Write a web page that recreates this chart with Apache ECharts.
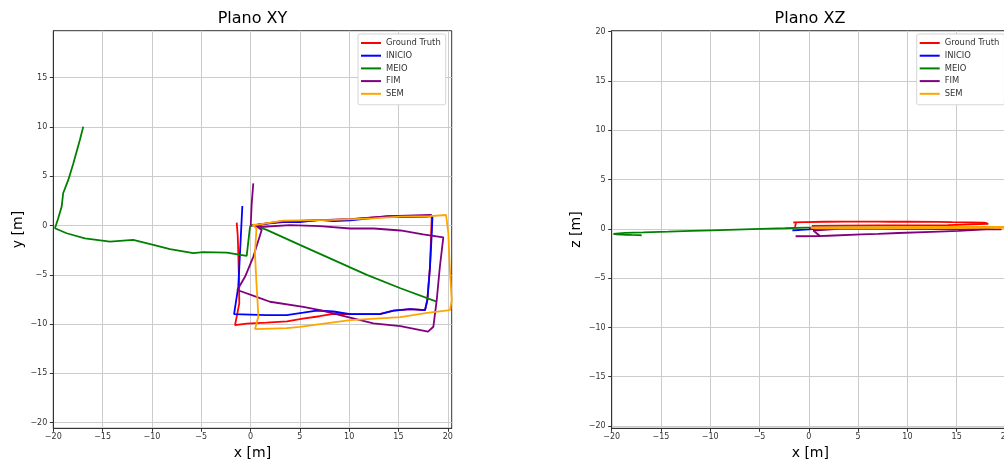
<!DOCTYPE html>
<html>
<head>
<meta charset="utf-8">
<script src="https://cdn.jsdelivr.net/npm/echarts@6/dist/echarts.min.js"></script>
<style>
html,body{margin:0;padding:0;background:#fff;}
#c{width:1004px;height:465px;}
</style>
</head>
<body>
<div id="c"></div>
<script>
// ---- data: trajectories as [x, y, z] (metres) ----
const seriesNames = ['Ground Truth', 'INICIO', 'MEIO', 'FIM', 'SEM'];
const seriesColors = ['#ff0000', '#0000ff', '#008000', '#800080', '#ffa500'];
const xTicks = [-20, -15, -10, -5, 0, 5, 10, 15, 20];
const yTicks = [-20, -15, -10, -5, 0, 5, 10, 15];
const zTicks = [-20, -15, -10, -5, 0, 5, 10, 15, 20];

const groundTruth = [
  [-1.40, 0.30, 0.20], [-1.30, -1.00, 0.62], [-1.24, -2.82, 0.64], [-1.17, -5.53, 0.64],
  [-1.14, -7.90, 0.65], [-1.57, -10.10, 0.65], [-1.70, -10.25, 0.66], [-0.40, -9.95, 0.68],
  [1.60, -9.85, 0.72], [3.70, -9.72, 0.74], [5.30, -9.45, 0.74], [7.00, -9.20, 0.74],
  [8.40, -8.95, 0.72], [10.10, -8.98, 0.72], [13.10, -8.98, 0.70], [14.50, -8.64, 0.68],
  [16.20, -8.47, 0.66], [17.70, -8.57, 0.64], [17.93, -7.56, 0.60], [18.20, -4.18, 0.50],
  [18.38, 1.00, 0.40], [14.10, 0.96, 0.37], [10.10, 0.62, 0.36], [7.05, 0.56, 0.35],
  [3.00, 0.39, 0.33], [0.30, 0.05, 0.30]
];
const inicio = [
  [-0.83, 1.98, -0.10], [-1.07, -2.82, -0.12], [-1.24, -6.20, -0.14], [-1.67, -8.98, -0.15],
  [1.64, -9.08, 0.05], [3.67, -9.08, 0.08], [5.35, -8.84, 0.10], [6.70, -8.62, 0.10],
  [8.40, -8.72, 0.10], [10.10, -8.98, 0.10], [13.10, -8.98, 0.10], [14.50, -8.64, 0.10],
  [16.20, -8.47, 0.10], [17.70, -8.57, 0.10], [17.93, -7.56, 0.10], [18.20, -4.18, 0.10],
  [18.38, -0.78, 0.10], [18.45, 0.95, 0.10], [17.90, 0.90, 0.10], [15.20, 0.85, 0.10],
  [13.80, 0.90, 0.10], [11.80, 0.70, 0.10], [10.10, 0.52, 0.10], [8.40, 0.45, 0.10],
  [7.00, 0.58, 0.10], [5.00, 0.36, 0.10], [3.30, 0.34, 0.10], [1.64, 0.20, 0.10],
  [0.28, 0.02, 0.10]
];
const meio = [
  [-16.96, 10.04, -0.65], [-17.30, 8.70, -0.64], [-17.97, 6.30, -0.62], [-18.48, 4.63, -0.60],
  [-19.00, 3.28, -0.58], [-19.15, 1.93, -0.57], [-19.50, 0.74, -0.55], [-19.83, -0.27, -0.50],
  [-19.93, -0.44, -0.45], [-18.65, -0.78, -0.40], [-16.80, -1.29, -0.35], [-14.25, -1.62, -0.28],
  [-11.90, -1.45, -0.21], [-9.86, -1.96, -0.15], [-8.17, -2.40, -0.10], [-5.80, -2.80, -0.03],
  [-4.80, -2.70, 0.00], [-2.40, -2.74, 0.06], [-0.39, -3.08, 0.12], [-0.05, -0.10, 0.12],
  [0.28, 0.07, 0.12], [1.64, -0.44, 0.12], [5.00, -1.96, 0.12], [8.40, -3.48, 0.12],
  [11.80, -5.00, 0.12], [15.20, -6.36, 0.12], [18.80, -7.70, 0.12]
];
const fim = [
  [0.28, 4.28, 0.05], [0.12, 2.25, 0.03], [0.02, 0.05, 0.00], [1.30, -0.12, 0.00],
  [4.00, 0.05, 0.00], [7.05, -0.05, 0.00], [10.10, -0.30, -0.02], [12.50, -0.30, -0.02],
  [15.20, -0.50, -0.03], [17.50, -0.90, -0.04], [19.55, -1.20, -0.05], [19.20, -4.18, -0.05],
  [18.88, -7.56, -0.05], [18.54, -10.27, -0.05], [18.00, -10.77, -0.05], [15.20, -10.20, -0.20],
  [12.45, -9.93, -0.30], [9.08, -9.08, -0.42], [7.05, -8.57, -0.50], [5.35, -8.24, -0.56],
  [1.97, -7.73, -0.70], [0.96, -7.37, -0.74], [-1.34, -6.54, -0.75], [-0.56, -5.20, -0.75],
  [0.28, -3.17, -0.75], [1.13, -0.46, -0.72], [0.45, 0.05, -0.17], [3.00, 0.39, 0.00],
  [7.05, 0.56, 0.03], [10.10, 0.66, 0.05], [14.10, 0.96, 0.05], [18.38, 1.07, 0.05]
];
const sem = [
  [0.20, 0.10, 0.10], [0.60, 0.07, 0.12], [3.30, 0.50, 0.15], [8.40, 0.57, 0.18],
  [12.45, 0.73, 0.20], [15.20, 0.91, 0.20], [18.20, 0.95, 0.20], [19.83, 1.07, 0.20],
  [20.06, -0.80, 0.18], [20.20, -4.16, 0.15], [20.40, -7.56, 0.12], [20.23, -8.57, 0.10],
  [20.06, -8.74, 0.10], [17.90, -8.85, 0.10], [15.20, -9.30, 0.08], [10.10, -9.59, 0.06],
  [7.05, -10.00, 0.05], [5.00, -10.27, 0.05], [3.67, -10.40, 0.05], [0.46, -10.50, 0.05],
  [0.80, -9.20, 0.05], [0.60, -5.85, 0.06], [0.45, -2.80, 0.08], [0.60, -0.30, 0.10],
  [0.20, 0.10, 0.10]
];
const trajectories = [groundTruth, inicio, meio, fim, sem];

// ---- chart ----
const FONT = 'DejaVu Sans';
const minus = v => String(v).replace('-', '\u2212');

function xAxisCfg(gi, max) {
  return {
    gridIndex: gi, type: 'value', min: -20, max: max,
    name: 'x [m]', nameLocation: 'middle', nameGap: 17,
    nameTextStyle: {fontSize: 14, color: '#000', fontFamily: FONT},
    axisLine: {show: true, onZero: false, lineStyle: {color: '#333', width: 1}},
    axisTick: {show: true, length: 3.5, customValues: xTicks, lineStyle: {color: '#333'}},
    axisLabel: {customValues: xTicks, fontSize: 8, color: '#333', margin: 5, fontFamily: FONT, formatter: minus},
    splitLine: {show: true, lineStyle: {color: '#cccccc', width: 1}}
  };
}
function yAxisCfg(gi, min, max, name, ticks) {
  return {
    gridIndex: gi, type: 'value', min: min, max: max,
    name: name, nameLocation: 'middle', nameGap: 28,
    nameTextStyle: {fontSize: 14, color: '#000', fontFamily: FONT},
    axisLine: {show: true, onZero: false, lineStyle: {color: '#333', width: 1}},
    axisTick: {show: true, length: 3.5, customValues: ticks, lineStyle: {color: '#333'}},
    axisLabel: {customValues: ticks, fontSize: 8, color: '#333', margin: 6, fontFamily: FONT, formatter: minus},
    splitLine: {show: true, lineStyle: {color: '#cccccc', width: 1}}
  };
}
function legendCfg(left) {
  return {
    orient: 'vertical', left: left, top: 34, selectedMode: false,
    icon: 'rect', itemWidth: 20, itemHeight: 2, itemGap: 2.7,
    padding: [4, 5, 6, 3],
    backgroundColor: '#ffffff', borderColor: '#d5d5d5', borderWidth: 1, borderRadius: 2,
    textStyle: {fontSize: 8.4, lineHeight: 10, color: '#333', fontFamily: FONT},
    data: seriesNames
  };
}

const series = [];
trajectories.forEach((traj, i) => {
  series.push({
    name: seriesNames[i], type: 'line', xAxisIndex: 0, yAxisIndex: 0,
    data: traj.map(p => [p[0], p[1]]), showSymbol: false, clip: true,
    lineStyle: {color: seriesColors[i], width: 1.8}, itemStyle: {color: seriesColors[i]}
  });
});
trajectories.forEach((traj, i) => {
  series.push({
    name: seriesNames[i], type: 'line', xAxisIndex: 1, yAxisIndex: 1,
    data: traj.map(p => [p[0], p[2]]), showSymbol: false, clip: true,
    lineStyle: {color: seriesColors[i], width: 1.8}, itemStyle: {color: seriesColors[i]}
  });
});

const chart = echarts.init(document.getElementById('c'), null, {renderer: 'canvas'});
chart.setOption({
  animation: false,
  backgroundColor: '#ffffff',
  textStyle: {fontFamily: FONT},
  grid: [
    {left: 53.3, top: 30.7, width: 398.4, height: 397.6, show: true, borderColor: '#333', borderWidth: 1, outerBoundsMode: 'none', containLabel: false},
    {left: 611.7, top: 30.7, width: 397.2, height: 397.6, show: true, borderColor: '#333', borderWidth: 1, outerBoundsMode: 'none', containLabel: false}
  ],
  xAxis: [xAxisCfg(0, 20.4), xAxisCfg(1, 20.3)],
  yAxis: [yAxisCfg(0, -20.57, 19.77, 'y [m]', yTicks), yAxisCfg(1, -20.23, 20.1, 'z [m]', zTicks)],
  legend: [legendCfg(358), legendCfg(916.7)],
  graphic: [
    {type: 'text', x: 252.5, y: 19, style: {text: 'Plano XY', fontSize: 16, fill: '#000', fontFamily: FONT, textAlign: 'center', textVerticalAlign: 'middle'}},
    {type: 'text', x: 810, y: 19, style: {text: 'Plano XZ', fontSize: 16, fill: '#000', fontFamily: FONT, textAlign: 'center', textVerticalAlign: 'middle'}}
  ],
  series: series
});
</script>
</body>
</html>
